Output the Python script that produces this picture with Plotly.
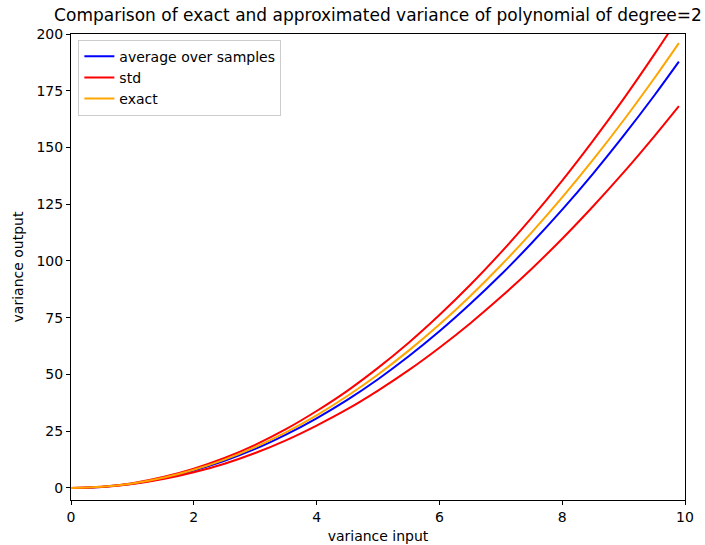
import plotly.graph_objects as go

x_vals = [0, 0.5, 1, 1.5, 2, 2.5, 3, 3.5, 4, 4.5, 5, 5.5, 6, 6.5, 7, 7.5, 8, 8.5, 9, 9.5, 9.9]
exact_vals = [0, 0.5, 2, 4.5, 8, 12.5, 18, 24.5, 32, 40.5, 50, 60.5, 72, 84.5, 98, 112.5, 128, 144.5, 162, 180.5, 196]
mean_vals = [0, 0.48, 1.9, 4.3, 7.7, 12.0, 17.2, 23.5, 30.7, 38.8, 47.9, 58.0, 69.0, 81.0, 93.9, 107.8, 122.6, 138.4, 155.2, 172.9, 187.8]
upper_vals = [0, 0.53, 2.1, 4.8, 8.5, 13.2, 19.0, 25.9, 33.9, 42.8, 52.9, 64.0, 76.2, 89.4, 103.7, 119.0, 135.4, 152.9, 171.4, 191.0, 207.4]
lower_vals = [0, 0.43, 1.7, 3.9, 6.9, 10.7, 15.4, 21.0, 27.5, 34.7, 42.9, 51.9, 61.8, 72.5, 84.1, 96.5, 109.8, 124.0, 139.0, 154.9, 168.2]

FONT = "DejaVu Sans"
FS = 14

fig = go.Figure()
fig.add_trace(go.Scatter(x=x_vals, y=mean_vals, mode="lines", name="average over samples",
                         line=dict(color="blue", width=2, shape="spline")))
fig.add_trace(go.Scatter(x=x_vals, y=upper_vals, mode="lines", name="std",
                         line=dict(color="red", width=2, shape="spline"), legendgroup="std"))
fig.add_trace(go.Scatter(x=x_vals, y=lower_vals, mode="lines", name="std", showlegend=False,
                         line=dict(color="red", width=2, shape="spline"), legendgroup="std"))
fig.add_trace(go.Scatter(x=x_vals, y=exact_vals, mode="lines", name="exact",
                         line=dict(color="orange", width=2, shape="spline")))

axis_common = dict(showline=True, linecolor="black", linewidth=1, mirror=True,
                   ticks="outside", ticklen=4, tickcolor="black", showgrid=False,
                   zeroline=False, automargin=False,
                   tickfont=dict(size=FS, color="black", family=FONT))

fig.update_layout(
    width=705, height=545,
    margin=dict(l=71, r=20, t=34, b=45),
    paper_bgcolor="white", plot_bgcolor="white",
    font=dict(family=FONT, size=FS, color="black"),
    title=dict(text="Comparison of exact and approximated variance of polynomial of degree=2",
               x=0.5, xref="paper", xanchor="center", y=1, yref="container", yanchor="top",
               pad=dict(t=9), font=dict(size=17, family=FONT, color="black")),
    xaxis=dict(range=[0, 10], tickvals=[0, 2, 4, 6, 8, 10],
               title=dict(text="variance input", standoff=7, font=dict(size=FS)), **axis_common),
    yaxis=dict(range=[-5.3, 200], tickvals=[0, 25, 50, 75, 100, 125, 150, 175, 200],
               title=dict(text="variance output", standoff=9, font=dict(size=FS)), **axis_common),
    legend=dict(x=0.012, y=0.988, xanchor="left", yanchor="top",
                bordercolor="#cccccc", borderwidth=1, bgcolor="rgba(255,255,255,0.8)",
                font=dict(size=FS, family=FONT), tracegroupgap=0),
    showlegend=True,
)

fig.write_html("out.html")
